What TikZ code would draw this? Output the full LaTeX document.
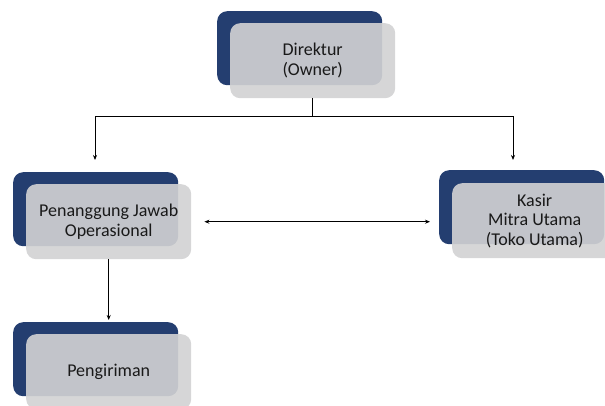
\documentclass[tikz,border=0pt]{standalone}
\usepackage{fontspec}
\setmainfont{Carlito}
\usetikzlibrary{arrows.meta}
\definecolor{darkblue}{RGB}{36,62,112}
\definecolor{boxgray}{RGB}{210,210,211}
\tikzset{
  back/.style={fill=darkblue, draw=none, rounded corners=10pt, minimum width=165pt, minimum height=74pt, anchor=north west, inner sep=0pt},
  front/.style={fill=boxgray, fill opacity=0.91, text opacity=1, draw=none, rounded corners=10pt, minimum width=165pt, minimum height=75pt, anchor=north west, inner sep=0pt, align=center, font=\fontsize{18}{19.5}\selectfont, text=black!90},
  conn/.style={draw=black, line width=0.8pt},
  arr/.style={conn, -{Stealth[length=5pt,width=4pt]}},
  darr/.style={conn, {Stealth[length=5pt,width=4pt]}-{Stealth[length=5pt,width=4pt]}}
}
\begin{document}
\begin{tikzpicture}[x=1pt,y=-1pt]
\useasboundingbox (0,0) rectangle (605,405);
% Direktur
\node[back] (dirB) at (217,11) {};
\node[front] (dir) at (230,23) {Direktur\\(Owner)};
% Penanggung Jawab
\node[back] (pjB) at (13,172) {};
\node[front] (pj) at (26,184) {Penanggung Jawab\\Operasional};
% Kasir
\node[back] (ksB) at (439,170) {};
\node[front] (ks) at (452,183) {Kasir\\Mitra Utama\\(Toko Utama)};
% Pengiriman
\node[back] (pgB) at (13,322) {};
\node[front] (pg) at (26,334) {Pengiriman};
% connectors
\coordinate (j) at (dir.south |- 0,116);
\coordinate (jl) at (95,116);
\coordinate (jr) at (513,116);
\coordinate (el) at (95,160);
\coordinate (er) at (513,160);
\draw[conn] (dir.south) -- (j);
\draw[conn] (jl) -- (jr);
\draw[arr] (jl) -- (el);
\draw[arr] (jr) -- (er);
\draw[arr, shorten >=2pt] (pj.south) -- (pj.south |- pgB.north);
\draw[darr, shorten <=13pt, shorten >=9pt] (pj.east) -- (pj.east -| ksB.west);
\end{tikzpicture}
\end{document}
